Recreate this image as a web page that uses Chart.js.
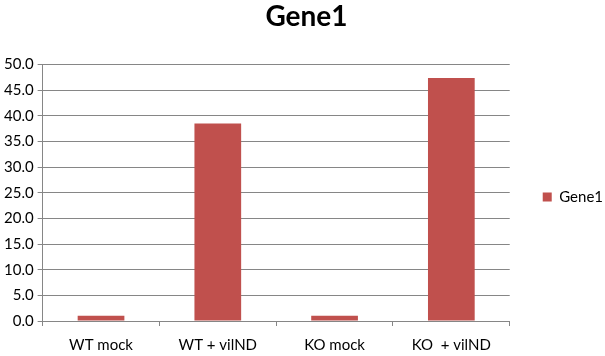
<!DOCTYPE html>
<html><head><meta charset="utf-8">
<script src="https://cdn.jsdelivr.net/npm/chart.js@4/dist/chart.umd.min.js"></script>
<style>html,body{margin:0;padding:0;background:#fff}#wrap{width:605px;height:356px}</style>
</head><body><div id="wrap"><canvas id="c" width="605" height="356"></canvas></div>
<script>
const categories = ["WT mock", "WT + vilND", "KO mock", "KO  + vilND"];
const seriesName = "Gene1";
const gene1Values = [1.0, 38.5, 1.0, 47.4];
const yTicks = [0, 5, 10, 15, 20, 25, 30, 35, 40, 45, 50];

const FONT = "Lato, 'Open Sans', 'Liberation Sans', sans-serif";
new Chart(document.getElementById('c'), {
  type: 'bar',
  data: {
    labels: categories,
    datasets: [{ label: seriesName, data: gene1Values, backgroundColor: '#c0504d', barPercentage: 0.4, categoryPercentage: 1.0 }]
  },
  options: {
    responsive: false, animation: false,
    layout: { padding: { left: 0, right: -8, top: 0, bottom: 0 } },
    plugins: {
      title: { display: true, text: 'Gene1', color: '#000', font: { family: FONT, size: 28, weight: 'bold' }, padding: { top: 0, bottom: 31 } },
      legend: {
        position: 'right',
        title: { display: true, text: ' ', font: { family: FONT, size: 1 }, padding: { top: 37, bottom: 0 } },
        labels: { boxWidth: 9, boxHeight: 9, color: '#000', font: { family: FONT, size: 15 }, padding: 2 }
      },
      tooltip: { enabled: false }
    },
    scales: {
      x: {
        grid: { display: true, drawOnChartArea: false, offset: true, tickLength: 5, color: '#868686' },
        border: { color: '#868686' },
        ticks: { color: '#000', font: { family: FONT, size: 15 }, padding: 10, maxRotation: 0 },
        afterFit: (s) => { s.height = 35; }
      },
      y: {
        min: 0, max: 50,
        afterBuildTicks: (s) => { s.ticks = yTicks.map(v => ({ value: v })); },
        grid: { color: '#868686', tickLength: 5 },
        border: { color: '#868686' },
        ticks: { color: '#000', font: { family: FONT, size: 15 }, padding: 4, callback: (v) => Number(v).toFixed(1) }
      },
      gap: {
        position: 'right', display: true,
        grid: { display: false }, border: { display: false }, ticks: { display: false },
        afterFit: (s) => { s.width = 31; }
      }
    }
  }
});
</script></body></html>
